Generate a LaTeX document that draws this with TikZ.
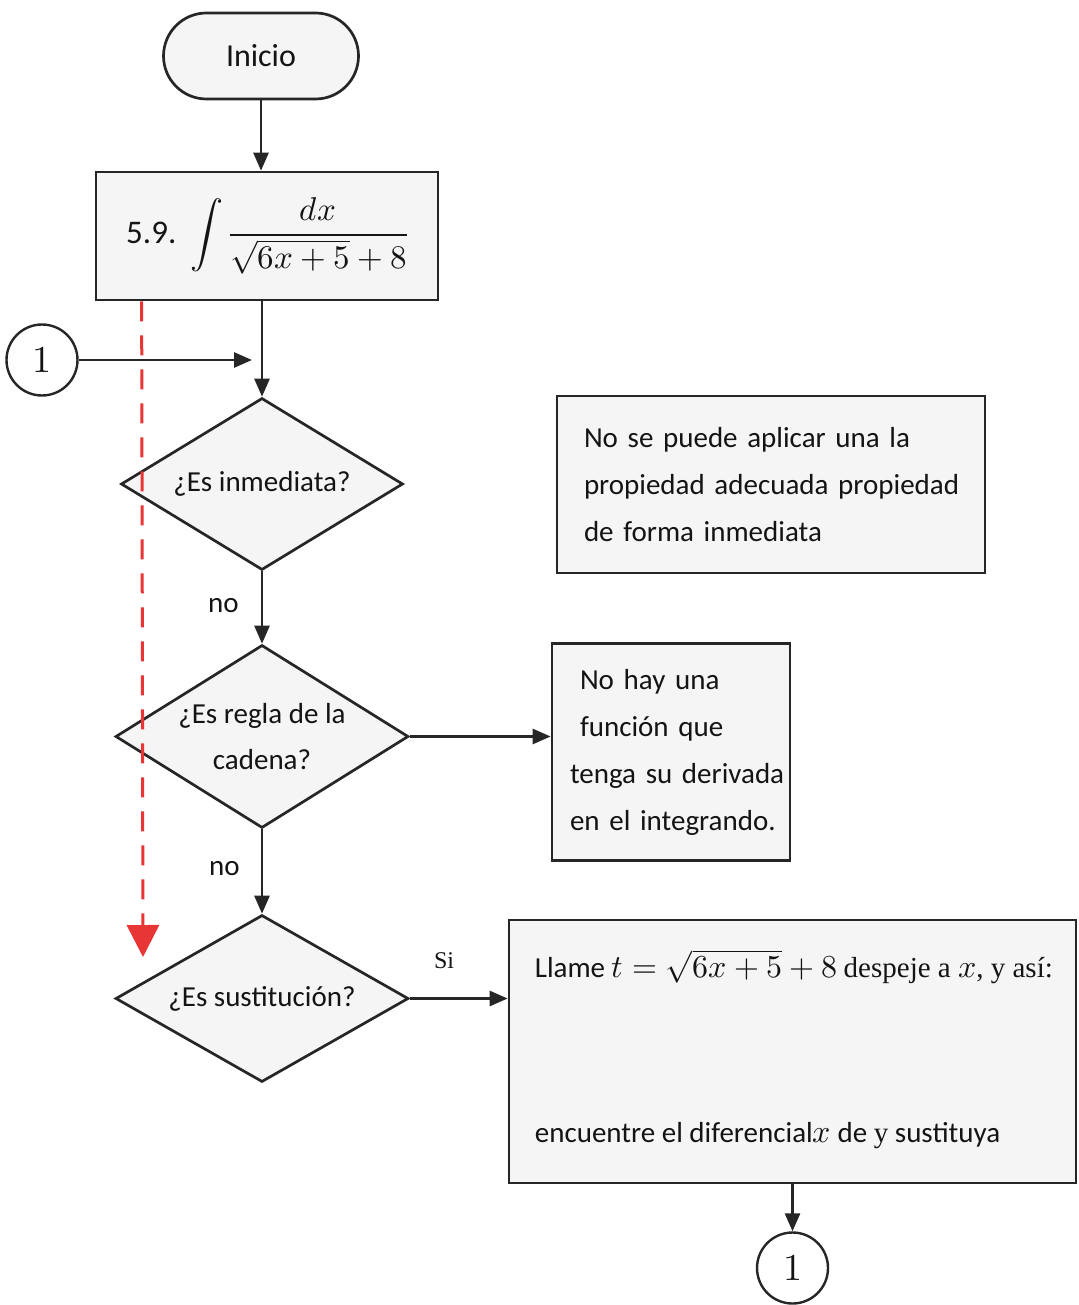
\documentclass[tikz,border=0pt]{standalone}
\usepackage{fontspec}
\usepackage{unicode-math}
\setmainfont{Carlito}
\setmathfont{Latin Modern Math}
\newfontfamily\serifx{Liberation Serif}
\usetikzlibrary{arrows.meta,shapes.geometric,calc}
\definecolor{ink}{HTML}{262626}
\definecolor{boxfill}{HTML}{F5F5F5}
\definecolor{redd}{HTML}{E83535}
\tikzset{
  every node/.style={font=\fontsize{29}{47}\selectfont, text=black!92},
  ln/.style={draw=ink, line width=2.7pt},
  arr/.style={ln, -{Triangle[length=18pt,width=15pt]}},
  procbox/.style={draw=ink, line width=2.7pt, fill=boxfill, rectangle, inner sep=0pt},
  dec/.style={draw=ink, line width=2.7pt, fill=boxfill, diamond, inner sep=0pt},
  conn/.style={draw=ink, line width=2.4pt, fill=white, circle, inner sep=0pt, minimum size=71pt},
  lbl/.style={inner sep=0pt},
  reddash/.style={draw=redd, line width=3pt, dash pattern=on 20pt off 14pt, -{Triangle[length=32pt,width=32pt]}}
}
\begin{document}
\begin{tikzpicture}[x=1pt,y=-1pt]
\useasboundingbox[fill=white] (0,0) rectangle (1078,1305);

% start
\node[draw=ink, line width=2.7pt, fill=boxfill, rounded corners=43pt, minimum width=195pt, minimum height=86pt, inner sep=0pt, font=\fontsize{32}{40}\selectfont] (ini) at (261,56) {Inicio};

% formula box
\node[procbox, minimum width=342pt, minimum height=128pt] (f) at (267,236)
  {{\fontsize{33}{40}\selectfont 5.9.}\hspace{14pt}{\fontsize{33}{40}\selectfont$\displaystyle\int\frac{dx}{\sqrt{6x+5}+8}$}};

% connector 1 (left)
\node[conn] (c1) at (42,360) {\fontsize{38}{40}\selectfont$1$};
\coordinate (c1end) at (252,360);

% decisions
\node[dec, minimum width=282pt, minimum height=172pt, label={[lbl]center:¿Es inmediata?}] (d1) at (262,484) {};
\node[dec, minimum width=293pt, minimum height=183pt, label={[lbl, align=center, font=\fontsize{29}{46}\selectfont]center:¿Es regla de la\\cadena?}] (d2) at (262,736.5) {};
\node[dec, minimum width=293pt, minimum height=167pt, label={[lbl]center:¿Es sustitución?}] (d3) at (262,998.5) {};

% side boxes
\node[procbox, minimum width=428pt, minimum height=177pt, text width=374pt, align=left] (n1) at (771,484.5)
  {\mbox{No se puede aplicar una la}\\\mbox{propiedad adecuada propiedad}\\\mbox{de forma inmediata}};
\node[procbox, minimum width=238pt, minimum height=217pt, text width=202pt, inner xsep=18pt, align=left] (n2) at (671,752)
  {\mbox{\hspace*{10pt}No hay una}\\\mbox{\hspace*{10pt}función que}\\\mbox{tenga su derivada}\\\mbox{en el integrando.}};
\node[procbox, minimum width=567pt, minimum height=263pt] (s) at (792.5,1051.5) {};
\node[lbl, anchor=west] (s1) at ($(s.north west)+(27,48)$)
  {Llame {\fontsize{32}{40}\selectfont$t=\sqrt{6x+5}+8$} {\serifx despeje a {\fontsize{32}{40}\selectfont$x$}, y así:}};
\node[lbl, anchor=west] (s2) at ($(s.north west)+(27,217)$)
  {encuentre el diferencial{\fontsize{32}{40}\selectfont$x$} de {\serifx y} sustituya};

% connector 1 (bottom)
\node[conn] (c2) at (792.5,1268) {\fontsize{38}{40}\selectfont$1$};

% red dashed arrow
\coordinate (rtop) at ($(f.south west)+(47,0)$);
\coordinate (rend) at (143,957);
\draw[reddash] (rtop) -- (rend);

% connectors
\draw[arr] (ini.south) -- (ini.south |- f.north);
\draw[arr] (f.south -| d1.north) -- (d1.north);
\draw[arr] (c1) -- (c1end);
\draw[arr] (d1) -- node[lbl, left=22pt, pos=0.47] (no1) {no} (d2);
\draw[arr] (d2) -- node[lbl, left=21pt, pos=0.47] (no2) {no} (d3);
\draw[arr] (d2.east) -- (d2.east -| n2.west);
\draw[arr] (d3.east) -- node[lbl, above=28pt, pos=0.35] (si) {\serifx\fontsize{24}{28}\selectfont Si} (s.west |- d3.east);
\draw[arr] (s.south -| c2) -- (c2);
\end{tikzpicture}
\end{document}
